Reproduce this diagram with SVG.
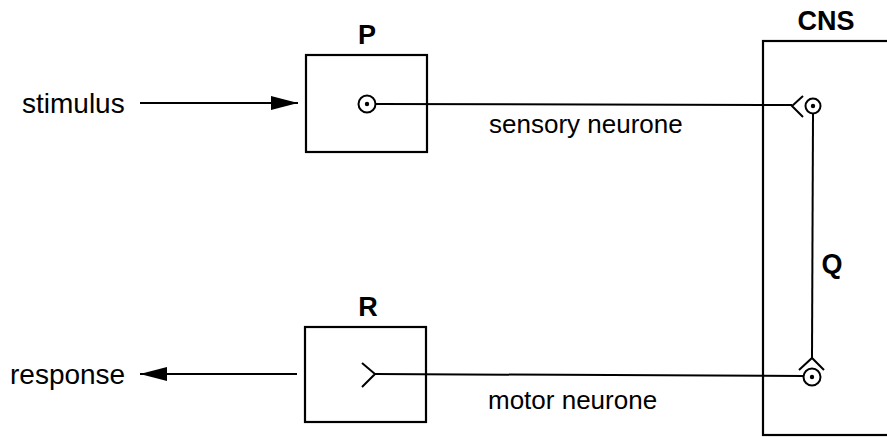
<svg xmlns="http://www.w3.org/2000/svg" width="887" height="437" viewBox="0 0 887 437">
<defs>
<style>
.box{fill:none;stroke:#000;stroke-width:2.2}
.ln{fill:none;stroke:#000;stroke-width:2}
.lbl{font-family:"Liberation Sans",Arial,sans-serif;font-size:28px;fill:#000}
.nlbl{font-family:"Liberation Sans",Arial,sans-serif;font-size:26px;fill:#000}
.bold{font-family:"Liberation Sans",Arial,sans-serif;font-size:27px;font-weight:bold;fill:#000}
.dot{fill:#000}
</style>
<marker id="ah" viewBox="0 0 27 14" refX="27" refY="7" markerWidth="27" markerHeight="14" markerUnits="userSpaceOnUse" orient="auto">
<path d="M0,0 L27,7 L0,14 Z" fill="#000"/>
</marker>
</defs>
<rect width="887" height="437" fill="#fff"/>
<g id="connectors">
<line class="ln" x1="140" y1="103" x2="298" y2="103" marker-end="url(#ah)"/>
<line class="ln" x1="297" y1="374" x2="140" y2="374" marker-end="url(#ah)"/>
<line class="ln" x1="376" y1="104" x2="792" y2="105"/>
<path class="ln" d="M803,96 L792,106 L803,117"/>
<line class="ln" x1="813" y1="114" x2="812" y2="358"/>
<path class="ln" d="M799,370 L812,358 L824,370"/>
<line class="ln" x1="375" y1="374" x2="803" y2="376"/>
<path class="ln" d="M362,363 L375,374 L362,387"/>
</g>
<g id="P">
<rect class="box" x="306" y="55" width="121" height="97"/>
<text class="bold" x="367" y="44" text-anchor="middle">P</text>
<circle class="ln" cx="367" cy="104" r="8.5"/>
<circle class="dot" cx="367" cy="104" r="2.2"/>
</g>
<g id="R">
<rect class="box" x="305" y="327" width="121" height="95"/>
<text class="bold" x="368" y="316" text-anchor="middle">R</text>
</g>
<g id="CNS">
<rect class="box" x="763" y="41" width="130" height="394"/>
<text class="bold" x="826" y="30" text-anchor="middle">CNS</text>
<circle class="ln" cx="813" cy="106" r="7.5"/>
<circle class="dot" cx="813" cy="106" r="2.2"/>
<circle class="ln" cx="812" cy="377" r="8.5"/>
<circle class="dot" cx="812" cy="377" r="2.2"/>
<text class="bold" x="832" y="273" text-anchor="middle">Q</text>
</g>
<g id="labels">
<text class="lbl" x="22" y="113">stimulus</text>
<text class="lbl" x="10" y="384">response</text>
<text class="nlbl" x="489" y="133">sensory neurone</text>
<text class="nlbl" x="488" y="409">motor neurone</text>
</g>
</svg>
